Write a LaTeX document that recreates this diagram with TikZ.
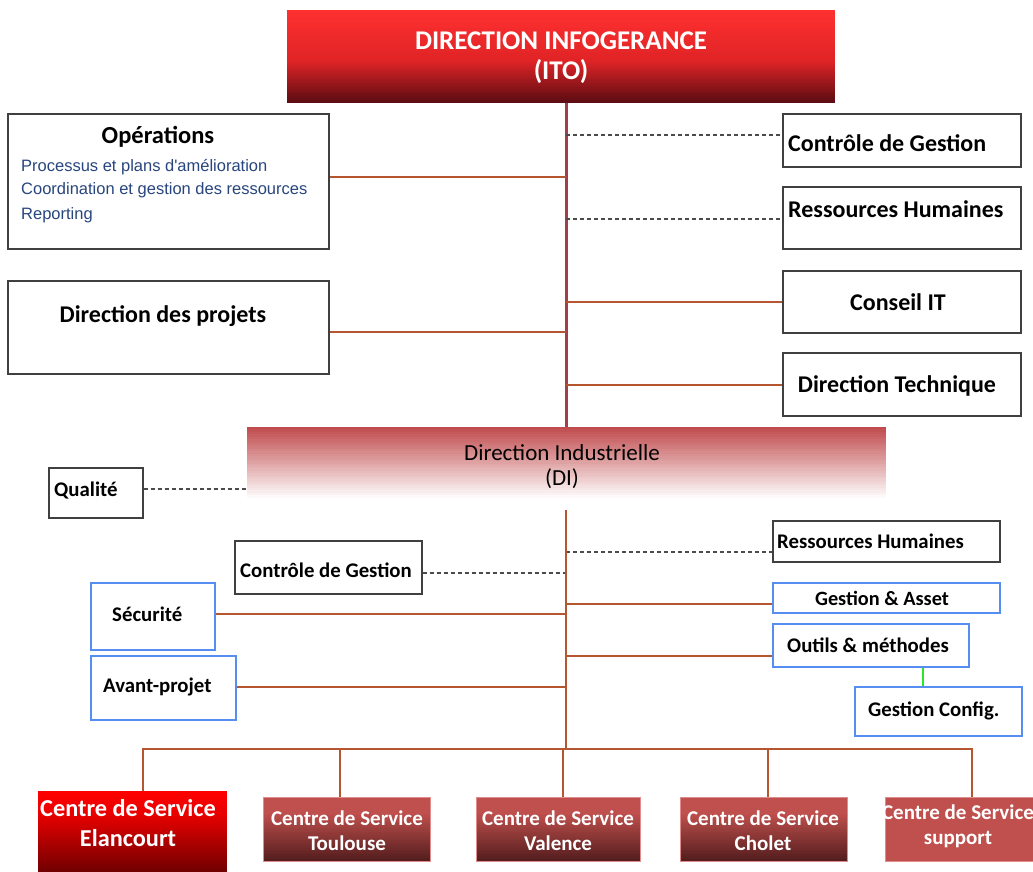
\documentclass[tikz,border=0pt]{standalone}
\usepackage{fontspec}
\setmainfont{Carlito}
\newfontfamily\arialf[Ligatures=TeXOff]{Liberation Sans}
\usetikzlibrary{fit,shadows,calc}

\definecolor{brn}{RGB}{181,86,48}
\definecolor{spinec}{RGB}{160,64,72}
\definecolor{dashc}{RGB}{75,75,75}
\definecolor{bluebd}{RGB}{85,142,240}
\definecolor{itemblue}{RGB}{40,70,125}
\definecolor{itoA}{RGB}{255,48,48}
\definecolor{itoB}{RGB}{225,36,38}
\definecolor{itoC}{RGB}{92,12,18}
\definecolor{diA}{RGB}{192,76,78}
\definecolor{elA}{RGB}{255,0,0}
\definecolor{elB}{RGB}{235,0,0}
\definecolor{elC}{RGB}{115,0,0}
\definecolor{csred}{RGB}{192,80,77}
\definecolor{csdark}{RGB}{85,30,30}
\definecolor{csbd}{RGB}{225,140,140}
\definecolor{cfglink}{RGB}{40,230,40}

\newcommand{\fsz}[2]{\fontsize{#1}{#2}\selectfont}

% vertical colour ramp: x1, y1 (top), x2, y2 (bottom), top colour, bottom colour
\newcommand{\vgrad}[6]{%
  \foreach \k in {0,...,29}{%
    \pgfmathsetmacro\gpc{100-\k*100/29}%
    \fill[#5!\gpc!#6] (#1,{#2+(#4-#2)*\k/30}) rectangle (#3,{min(#4,#2+(#4-#2)*(\k+1)/30+0.7)});
  }}

\tikzset{
  box/.style={draw=black!75, line width=1.3pt, fill=white, inner sep=0pt,
    drop shadow={shadow xshift=1.3pt, shadow yshift=-1.3pt, fill=black!60, opacity=0.9}},
  bbox/.style={draw=bluebd, line width=1.3pt, fill=white, inner sep=0pt,
    drop shadow={shadow xshift=1.1pt, shadow yshift=-1.1pt, fill=bluebd!80, opacity=0.9}},
  area/.style={inner sep=0pt},
  lbl/.style={inner sep=0pt, font=\bfseries\fsz{24}{29}},
  slbl/.style={inner sep=0pt, font=\bfseries\fsz{20.8}{25}},
  item/.style={inner sep=0pt, text=itemblue, font=\arialf\fsz{16.5}{20}},
  title/.style={inner sep=0pt, text=white, align=center, font=\bfseries\fsz{27}{30}},
  ditxt/.style={inner sep=0pt, align=center, font=\fsz{23}{25}},
  cstxt/.style={inner sep=0pt, text=white, align=center, font=\bfseries\fsz{21}{25}},
  csframe/.style={draw=csbd, line width=0.9pt, inner sep=0pt},
  link/.style={draw=brn, line width=2.2pt},
  dlink/.style={draw=dashc, line width=1.8pt, dash pattern=on 4pt off 3pt},
  spine/.style={draw=spinec, line width=3pt},
}

\begin{document}
\begin{tikzpicture}[x=1pt,y=-1pt]
\useasboundingbox[fill=white] (0,0) rectangle (1033,872);

% ---------- top direction ----------
\vgrad{287}{10}{835}{60}{itoA}{itoB}
\vgrad{287}{60}{835}{103}{itoB}{itoC}
\node[area, fit={(287,10)(835,103)}] (ito) {};
\node[title] (itoT) at (561,58) {DIRECTION INFOGERANCE\\(ITO)};

% ---------- industrial direction (fading band) ----------
\vgrad{247}{427}{886}{500}{diA}{white}
\node[area, fit={(247,427)(886,510)}] (di) {};
\node[ditxt] (diT) at (562,467) {Direction Industrielle\\(DI)};

\coordinate (sp) at (566,103);
\draw[spine] (ito.south -| sp) -- (di.north -| sp);

% ---------- staff boxes of the top direction ----------
\node[box, fit={(8,114)(329,249)}] (ops) {};
\node[lbl, font=\bfseries\fsz{24.5}{29}] (opsT) at (158,137) {Opérations};
\node[item, anchor=west] (ops1) at (21,167) {Processus et plans d'amélioration};
\node[item, anchor=west] (ops2) at (21,190) {Coordination et gestion des ressources};
\node[item, anchor=west] (ops3) at (21,215) {Reporting};

\node[box, fit={(8,281)(329,374)}] (proj) {};
\node[lbl] (projT) at (163,316) {Direction des projets};

\node[box, fit={(783,114)(1021,167)}] (cg) {};
\node[lbl, anchor=west] (cgT) at (788,143) {Contrôle de Gestion};
\node[box, fit={(783,187)(1021,249)}] (rh) {};
\node[lbl, anchor=west] (rhT) at (788,209) {Ressources Humaines};
\node[box, fit={(783,271)(1021,333)}] (cit) {};
\node[lbl] (citT) at (898,302) {Conseil IT};
\node[box, fit={(783,353)(1021,416)}] (dt) {};
\node[lbl] (dtT) at (897,386) {Direction Technique};

\draw[link] (ops.east |- 0,177) -- (sp |- 0,177);
\draw[link] (proj.east |- 0,332) -- (sp |- 0,332);
\draw[dlink] (sp |- 0,135) -- (cg.west |- 0,135);
\draw[dlink] (sp |- 0,219) -- (rh.west |- 0,219);
\draw[link] (sp |- 0,302) -- (cit.west |- 0,302);
\draw[link] (sp |- 0,385) -- (dt.west |- 0,385);

% ---------- units of the industrial direction ----------
\node[box, fit={(49,468)(143,518)}] (qual) {};
\node[slbl, anchor=west] (qualT) at (54,491) {Qualité};
\draw[dlink] (qual.east |- 0,489) -- (di.west |- 0,489);

\coordinate (dsp) at (566,510);
\coordinate (busL) at (143,749);
\coordinate (busR) at (972,749);

\node[box, fit={(235,541)(422,594)}] (cgd) {};
\node[slbl, anchor=west] (cgdT) at (240,570) {Contrôle de Gestion};
\node[box, fit={(773,521)(1000,562)}] (rhd) {};
\node[slbl, anchor=west] (rhdT) at (777,541) {Ressources Humaines};

\node[bbox, fit={(91,583)(215,650)}] (secu) {};
\node[slbl, anchor=west] (secuT) at (112,614) {Sécurité};
\node[bbox, fit={(91,656)(236,720)}] (avp) {};
\node[slbl, anchor=west] (avpT) at (103,687) {Avant-projet};

\node[bbox, fit={(773,583)(1000,613)}] (gass) {};
\node[slbl, font=\bfseries\fsz{20.3}{25}] (gassT) at (882,598) {Gestion \& Asset};
\node[bbox, fit={(773,624)(969,667)}] (outm) {};
\node[slbl, anchor=west] (outmT) at (787,645) {Outils \& méthodes};
\node[bbox, fit={(855,687)(1022,736)}] (gcfg) {};
\node[slbl, anchor=west] (gcfgT) at (868,711) {Gestion Config.};

\draw[dlink] (cgd.east |- 0,573) -- (dsp |- 0,573);
\draw[dlink] (dsp |- 0,552) -- (rhd.west |- 0,552);
\draw[link] (secu.east |- 0,614) -- (dsp |- 0,614);
\draw[link] (avp.east |- 0,687) -- (dsp |- 0,687);
\draw[link] (dsp |- 0,604) -- (gass.west |- 0,604);
\draw[link] (dsp |- 0,656) -- (outm.west |- 0,656);
\draw[draw=cfglink, line width=2.4pt] (outm.south -| 923,0) -- (gcfg.north -| 923,0);

% ---------- service centres ----------
\vgrad{38}{791}{227}{812}{elA}{elB}
\vgrad{38}{812}{227}{872}{elB}{elC}
\node[area, fit={(38,791)(227,872)}] (elan) {};
\node[cstxt, font=\bfseries\fsz{24.3}{30}] (elanT) at (128,823) {Centre de Service\\Elancourt};

\vgrad{263}{797}{430}{812}{csred}{csred}
\vgrad{263}{812}{430}{861}{csred}{csdark}
\node[csframe, fit={(263,797)(430,861)}] (tou) {};
\node[cstxt] (touT) at (347,831) {Centre de Service\\Toulouse};

\vgrad{476}{797}{640}{812}{csred}{csred}
\vgrad{476}{812}{640}{861}{csred}{csdark}
\node[csframe, fit={(476,797)(640,861)}] (val) {};
\node[cstxt] (valT) at (558,831) {Centre de Service\\Valence};

\vgrad{680}{797}{847}{812}{csred}{csred}
\vgrad{680}{812}{847}{861}{csred}{csdark}
\node[csframe, fit={(680,797)(847,861)}] (cho) {};
\node[cstxt] (choT) at (763,831) {Centre de Service\\Cholet};

\node[csframe, fill=csred, fit={(885,797)(1040,861)}] (sup) {};
\node[cstxt, anchor=north] (supT) at (958,805) {Centre de Service\\support};

% bus to the centres
\coordinate (dTou) at (340,749);
\coordinate (dVal) at (563,749);
\coordinate (dCho) at (768,749);
\draw[link, line width=2.6pt] (dsp) -- (dsp |- busL);
\draw[link] (elan.north -| busL) -- (busL) -- (busR) -- (sup.north -| busR);
\draw[link] (dTou) -- (dTou |- tou.north);
\draw[link] (dVal) -- (dVal |- val.north);
\draw[link] (dCho) -- (dCho |- cho.north);
\end{tikzpicture}
\end{document}
